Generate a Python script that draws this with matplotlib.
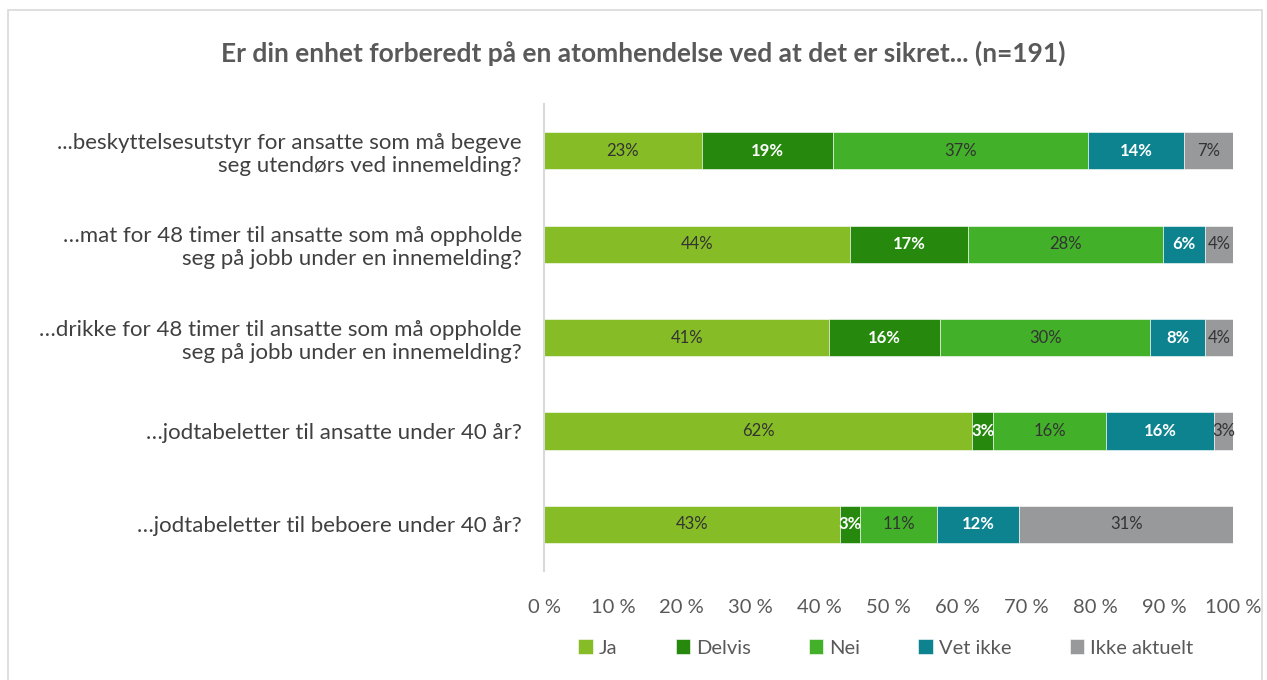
import matplotlib.pyplot as plt
from matplotlib.patches import Rectangle
import numpy as np

plt.rcParams['font.family'] = ['Lato', 'DejaVu Sans']

questions = [
    "...beskyttelsesutstyr for ansatte som må begeve\nseg utendørs ved innemelding?",
    "…mat for 48 timer til ansatte som må oppholde\nseg på jobb under en innemelding?",
    "…drikke for 48 timer til ansatte som må oppholde\nseg på jobb under en innemelding?",
    "…jodtabeletter til ansatte under 40 år?",
    "…jodtabeletter til beboere under 40 år?",
]
categories = ["Ja", "Delvis", "Nei", "Vet ikke", "Ikke aktuelt"]

# share of answers in percent, one list per answer category
ja = [22.9, 44.4, 41.4, 62.1, 43.0]
delvis = [19.0, 17.1, 16.1, 3.1, 2.9]
nei = [37.1, 28.3, 30.5, 16.3, 11.2]
vet_ikke = [13.9, 6.1, 8.0, 15.8, 11.9]
ikke_aktuelt = [7.1, 4.1, 4.0, 2.7, 31.0]

series = [ja, delvis, nei, vet_ikke, ikke_aktuelt]
colors = ["#86bc25", "#26890d", "#43b02a", "#0d8390", "#97999b"]
label_colors = ["#333333", "white", "#333333", "white", "#333333"]
label_weight = ["normal", "bold", "normal", "bold", "normal"]

fig = plt.figure(figsize=(12.67, 6.8), dpi=100)
ax = fig.add_axes([0.4294, 0.160, 0.5438, 0.687])

y = np.arange(len(questions))
left = np.zeros(len(questions))
handles = []
for vals, name, col, tc, tw in zip(series, categories, colors, label_colors, label_weight):
    vals = np.array(vals)
    bars = ax.barh(y, vals, left=left, height=0.4, color=col, label=name,
                   edgecolor="white", linewidth=0.4)
    handles.append(bars)
    for yi, l, v in zip(y, left, vals):
        ax.text(l + v / 2, yi, f"{round(v):.0f}%", ha="center", va="center",
                color=tc, fontsize=12, fontweight=tw)
    left += vals

ax.set_xlim(0, 100)
ax.set_ylim(len(questions) - 0.5, -0.5)
ax.set_yticks(y)
ax.set_yticklabels(questions, fontsize=16, color="#404040", linespacing=1.2)
ax.set_xticks(np.arange(0, 101, 10))
ax.set_xticklabels([f"{t} %" for t in range(0, 101, 10)], fontsize=14.5, color="#595959")
ax.tick_params(length=0)
ax.tick_params(axis="y", pad=16)
ax.tick_params(axis="x", pad=20)
for s in ["top", "right", "bottom"]:
    ax.spines[s].set_visible(False)
ax.spines["left"].set_color("#d9d9d9")
ax.spines["left"].set_linewidth(1.5)

fig.suptitle("Er din enhet forberedt på en atomhendelse ved at det er sikret... (n=191)",
             x=0.508, y=0.94, fontsize=19, fontweight="bold", color="#595959")

fig.legend(handles=handles, labels=categories, loc="center", ncol=5,
           bbox_to_anchor=(0.699, 0.047), frameon=False, fontsize=14.5,
           handlelength=0.7, handleheight=0.7, handletextpad=0.3,
           columnspacing=2.9, labelcolor="#595959")

# light chart frame
fig.patches.append(Rectangle((0.006, -0.01), 0.99, 0.995, transform=fig.transFigure,
                             fill=False, edgecolor="#d9d9d9", linewidth=1.2))

fig.savefig("out.png", dpi=100)
